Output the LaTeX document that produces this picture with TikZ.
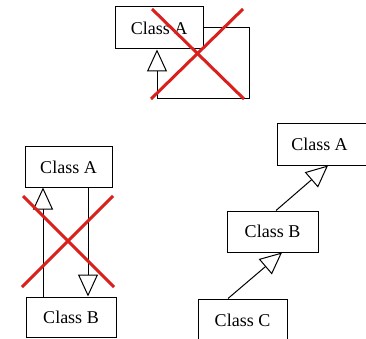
\documentclass[tikz,border=0pt]{standalone}
\usepackage{fontspec}
\setmainfont{Liberation Serif}
\usetikzlibrary{arrows.meta}
\definecolor{xred}{RGB}{218,32,28}
\tikzset{
  cls/.style={draw, line width=1pt, rectangle, inner sep=0pt, font=\fontsize{18}{20}\selectfont},
  inh/.style={line width=1pt, -{Triangle[open, length=22pt, width=20pt, line width=1pt]}},
  cross/.style={draw=xred, line width=3pt}
}
\begin{document}
\begin{tikzpicture}[x=1pt, y=-1pt]
\useasboundingbox (0,0) rectangle (366,339);
\clip (0,0) rectangle (366,339);
% top: self-inheritance
\node[cls, minimum width=88pt, minimum height=42pt] (ta) at (159,28) {Class A};
\coordinate (tr) at (249,28);
\coordinate (tb) at (157,99);
\draw[inh] (ta.east) -- (tr) |- (tb) -- (ta.south -| tb);
\coordinate (tx1) at (152,9);
\coordinate (tx2) at (244,99);
\coordinate (tx3) at (243,9);
\coordinate (tx4) at (151,99);
\draw[cross] (tx1) -- (tx2);
\draw[cross] (tx3) -- (tx4);
% bottom-left: cyclic inheritance
\node[cls, minimum width=87pt, minimum height=40pt] (la) at (68.5,167) {Class A};
\node[cls, minimum width=90pt, minimum height=40pt] (lb) at (71,317) {Class B};
\coordinate (lx1) at (43,0);
\coordinate (lx2) at (88,0);
\draw[inh] (lb.north -| lx1) -- (la.south -| lx1);
\draw[inh] (la.south -| lx2) -- (lb.north -| lx2);
\coordinate (lc1) at (23,196);
\coordinate (lc2) at (114,287);
\coordinate (lc3) at (113,196);
\coordinate (lc4) at (22,287);
\draw[cross] (lc1) -- (lc2);
\draw[cross] (lc3) -- (lc4);
% right: valid chain
\node[cls, minimum width=90pt, minimum height=41pt] (ra) at (322,144.5) {\hspace*{-5pt}Class A};
\node[cls, minimum width=91pt, minimum height=41pt] (rb) at (272.5,231.5) {Class B};
\node[cls, minimum width=89pt, minimum height=42pt] (rc) at (242.5,320) {Class C};
\coordinate (rb1) at (276,0);
\coordinate (ra1) at (328,0);
\coordinate (rc1) at (228,0);
\coordinate (rb2) at (282,0);
\draw[inh] (rb.north -| rb1) -- (ra.south -| ra1);
\draw[inh] (rc.north -| rc1) -- (rb.south -| rb2);
\end{tikzpicture}
\end{document}
